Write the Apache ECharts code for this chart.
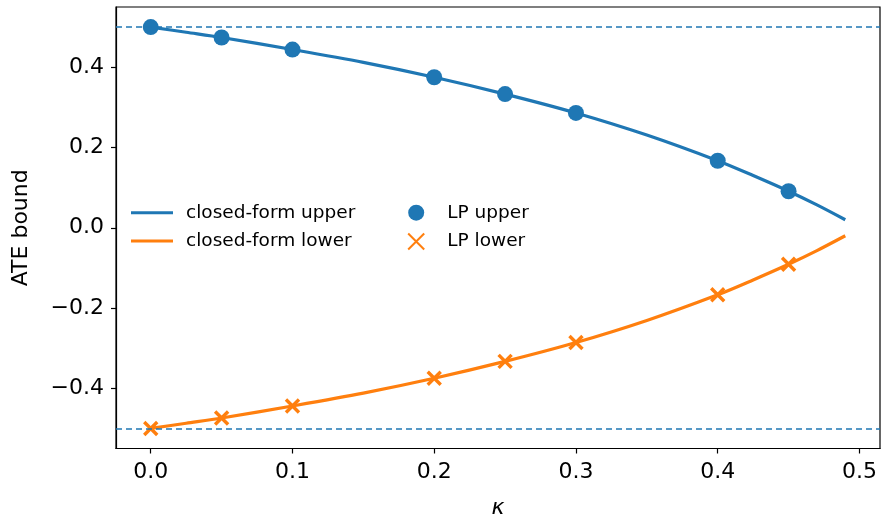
<!DOCTYPE html>
<html>
<head>
<meta charset="utf-8">
<script src="https://cdn.jsdelivr.net/npm/echarts@6/dist/echarts.min.js"></script>
<style>
  html, body { margin: 0; padding: 0; background: #fff; }
  #main { width: 881px; height: 521px; }
</style>
</head>
<body>
<div id="main"></div>
<script>
// closed-form curve
var kappaCurve = [0, 0.025, 0.05, 0.1, 0.15, 0.2, 0.25, 0.3, 0.35, 0.4, 0.425, 0.45, 0.47, 0.49];
var upperCurve = [0.5, 0.487, 0.474, 0.444, 0.412, 0.375, 0.333, 0.286, 0.231, 0.167, 0.130, 0.091, 0.057, 0.020];
var lowerCurve = [-0.5, -0.487, -0.474, -0.444, -0.412, -0.375, -0.333, -0.286, -0.231, -0.167, -0.130, -0.091, -0.057, -0.020];

// LP points
var kappaLP = [0, 0.05, 0.1, 0.2, 0.25, 0.3, 0.4, 0.45];
var upperLP = [0.5, 0.474, 0.444, 0.375, 0.333, 0.286, 0.167, 0.091];
var lowerLP = [-0.5, -0.474, -0.444, -0.375, -0.333, -0.286, -0.167, -0.091];

var xTicks = [0, 0.1, 0.2, 0.3, 0.4, 0.5];
var yTicks = [-0.4, -0.2, 0, 0.2, 0.4];
var refLines = [0.5, -0.5];

var BLUE = '#1f77b4', ORANGE = '#ff7f0e';
var FONT = 'DejaVu Sans';

function pairs(xs, ys) {
  var out = [];
  for (var i = 0; i < xs.length; i++) out.push([xs[i], ys[i]]);
  return out;
}
function fmt(v) {
  var s = Math.abs(v).toFixed(1);
  return v < -1e-9 ? '\u2212' + s : s;
}

var myChart = echarts.init(document.getElementById('main'));
var option = {
  animation: false,
  grid: {
    left: 116, right: 1, top: 7, bottom: 72.5,
    outerBoundsMode: 'none',
    containLabel: false,
    show: true, borderColor: '#000', borderWidth: 1.2, backgroundColor: 'transparent'
  },
  legend: [
    {
      data: [
        { name: 'closed-form upper', icon: 'rect' },
        { name: 'closed-form lower', icon: 'rect' }
      ],
      orient: 'vertical',
      left: 126, top: 197.7,
      itemWidth: 42, itemHeight: 3, itemGap: 8.3,
      textStyle: { fontFamily: FONT, fontSize: 18.5, color: '#000', lineHeight: 20, padding: [0, 0, 0, 8] }
    },
    {
      data: ['LP upper', 'LP lower'],
      orient: 'vertical',
      left: 400.7, top: 197.7,
      itemWidth: 20, itemHeight: 16, itemGap: 8.3,
      textStyle: { fontFamily: FONT, fontSize: 18.5, color: '#000', lineHeight: 20, padding: [0, 0, 0, 16] }
    }
  ],
  xAxis: {
    type: 'value',
    min: -0.0245, max: 0.5145,
    name: 'κ',
    nameLocation: 'middle',
    nameGap: 49,
    nameTextStyle: { fontFamily: FONT, fontSize: 22, fontStyle: 'italic', color: '#000' },
    axisLine: { onZero: false, lineStyle: { color: '#000', width: 1.2 } },
    axisTick: { show: true, length: 5, inside: false, customValues: xTicks, lineStyle: { color: '#000', width: 1.2 } },
    axisLabel: {
      customValues: xTicks, margin: 13,
      fontFamily: FONT, fontSize: 22, color: '#000',
      formatter: fmt
    },
    splitLine: { show: false }
  },
  yAxis: {
    type: 'value',
    min: -0.55, max: 0.55,
    name: 'ATE bound',
    nameLocation: 'middle',
    nameGap: 84,
    nameTextStyle: { fontFamily: FONT, fontSize: 22, color: '#000' },
    axisLine: { onZero: false, lineStyle: { color: '#000', width: 1.2 } },
    axisTick: { show: true, length: 5, inside: false, customValues: yTicks, lineStyle: { color: '#000', width: 1.2 } },
    axisLabel: {
      customValues: yTicks, margin: 12,
      fontFamily: FONT, fontSize: 22, color: '#000',
      formatter: fmt
    },
    splitLine: { show: false }
  },
  series: [
    {
      name: 'closed-form upper',
      type: 'line',
      data: pairs(kappaCurve, upperCurve),
      symbol: 'none',
      smooth: 0.3,
      color: BLUE,
      lineStyle: { color: BLUE, width: 3.2 },
      z: 3,
      markLine: {
        silent: true,
        symbol: 'none',
        label: { show: false },
        lineStyle: { color: BLUE, width: 1.5, type: [6, 4] },
        data: refLines.map(function (v) { return { yAxis: v }; })
      }
    },
    {
      name: 'closed-form lower',
      type: 'line',
      data: pairs(kappaCurve, lowerCurve),
      symbol: 'none',
      smooth: 0.3,
      color: ORANGE,
      lineStyle: { color: ORANGE, width: 3.2 },
      z: 3
    },
    {
      name: 'LP upper',
      type: 'scatter',
      data: pairs(kappaLP, upperLP),
      symbol: 'circle',
      symbolSize: 16,
      itemStyle: { color: BLUE, opacity: 1 },
      z: 4
    },
    {
      name: 'LP lower',
      type: 'scatter',
      data: pairs(kappaLP, lowerLP),
      symbol: 'path://M0,0L10,10M10,0L0,10',
      symbolSize: 13,
      itemStyle: { color: 'none', borderColor: ORANGE, borderWidth: 3.4, opacity: 1 },
      z: 4
    }
  ]
};

myChart.setOption(option);
</script>
</body>
</html>
